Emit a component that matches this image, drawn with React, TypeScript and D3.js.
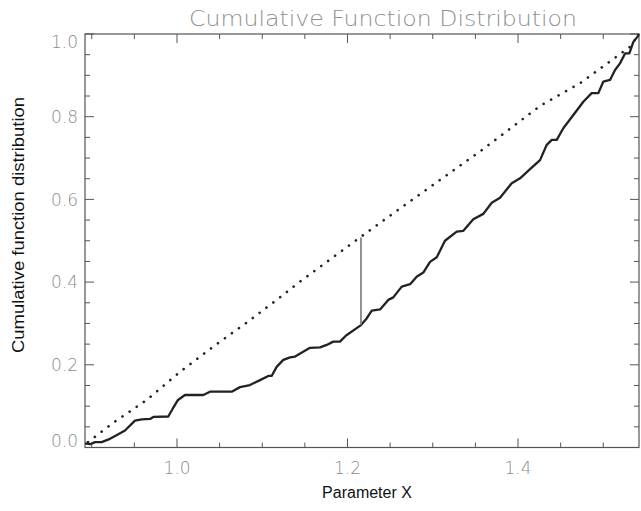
import React from "react";
import * as d3 from "d3";

// Empirical cumulative distribution (solid)
const solidX = [0.8921, 0.8980, 0.9039, 0.9116, 0.9214, 0.9312, 0.9390, 0.9507, 0.9586, 0.9684, 0.9723, 0.9898, 0.9953, 1.0012, 1.0093, 1.0309, 1.0387, 1.0642, 1.0739, 1.0856, 1.0974, 1.1071, 1.1110, 1.1169, 1.1247, 1.1326, 1.1385, 1.1560, 1.1678, 1.1756, 1.1833, 1.1912, 1.1983, 1.2158, 1.2225, 1.2284, 1.2382, 1.2478, 1.2537, 1.2636, 1.2734, 1.2811, 1.2889, 1.2968, 1.3047, 1.3143, 1.3281, 1.3359, 1.3475, 1.3593, 1.3692, 1.3789, 1.3926, 1.4024, 1.4141, 1.4258, 1.4337, 1.4396, 1.4454, 1.4531, 1.4649, 1.4766, 1.4864, 1.4942, 1.5001, 1.5079, 1.5138, 1.5196, 1.5255, 1.5306, 1.5353, 1.5400, 1.5419];
const solidY = [0.010, 0.008, 0.013, 0.013, 0.021, 0.032, 0.041, 0.065, 0.068, 0.069, 0.074, 0.075, 0.095, 0.115, 0.127, 0.127, 0.135, 0.135, 0.146, 0.151, 0.163, 0.173, 0.173, 0.195, 0.212, 0.218, 0.220, 0.241, 0.242, 0.248, 0.256, 0.256, 0.271, 0.296, 0.312, 0.331, 0.334, 0.357, 0.363, 0.389, 0.395, 0.413, 0.423, 0.449, 0.460, 0.500, 0.522, 0.524, 0.552, 0.565, 0.592, 0.604, 0.639, 0.651, 0.673, 0.695, 0.732, 0.744, 0.744, 0.772, 0.804, 0.836, 0.857, 0.857, 0.885, 0.889, 0.913, 0.929, 0.953, 0.953, 0.981, 0.993, 1.0];

// Reference cumulative distribution (dotted)
const dottedX = [0.8956, 0.9253, 0.9645, 1.0036, 1.0426, 1.0817, 1.1169, 1.1442, 1.2146, 1.2616, 1.3085, 1.3574, 1.4258, 1.4728, 1.5314, 1.5419];
const dottedY = [0.013, 0.060, 0.115, 0.183, 0.244, 0.302, 0.357, 0.401, 0.508, 0.578, 0.647, 0.719, 0.826, 0.881, 0.969, 1.0];

// Maximum distance marker
const ksX = 1.2158;
const ksLow = 0.296;
const ksHigh = 0.508;

const xTicks = [1.0, 1.2, 1.4];
const yTicks = [0.0, 0.2, 0.4, 0.6, 0.8, 1.0];
const xDomain = [0.8921, 1.5419];
const yDomain = [0, 1];

const W = 641, H = 511;
const L = 85, R = 639, T = 34, B = 447.5;

export default function App() {
  const x = d3.scaleLinear().domain(xDomain).range([L, R]);
  const y = d3.scaleLinear().domain(yDomain).range([B, T]);
  const line = d3.line<[number, number]>().x(d => x(d[0])).y(d => y(d[1]));
  const solid = solidX.map((v, i) => [v, solidY[i]] as [number, number]);
  const dotted = dottedX.map((v, i) => [v, dottedY[i]] as [number, number]);

  const xMinor = d3.range(18, 31).map(k => k * 0.05).filter(v => v >= xDomain[0] - 1e-9 && v <= xDomain[1]);
  const yMinor = d3.range(0, 21).map(k => k * 0.05);
  const isMajor = (v: number) => Math.abs(v * 5 - Math.round(v * 5)) < 1e-6;

  const axisColor = "#555";
  const labelColor = "#8c8c8c";
  const tickFont = "DejaVu Sans, sans-serif";

  return (
    <svg width={W} height={H} style={{ position: "absolute", left: 0, top: 0, background: "#fff" }}>
      <rect x={0} y={0} width={W} height={H} fill="#fff" />
      <text x={383} y={26} textAnchor="middle" fontFamily={tickFont} fontWeight={200} fontSize={21} fill="#8f8f8f" textLength={388} lengthAdjust="spacingAndGlyphs">Cumulative Function Distribution</text>

      {/* frame */}
      <rect x={L} y={T} width={R - L} height={B - T} fill="none" stroke={axisColor} strokeWidth={1.2} />

      {/* ticks */}
      {xMinor.map((v, i) => {
        const len = isMajor(v) ? 9 : 5;
        const px = x(v);
        return (
          <g key={"xt" + i}>
            <line x1={px} x2={px} y1={B} y2={B - len} stroke={axisColor} strokeWidth={1} />
            <line x1={px} x2={px} y1={T} y2={T + len} stroke={axisColor} strokeWidth={1} />
          </g>
        );
      })}
      {yMinor.map((v, i) => {
        const len = isMajor(v) ? 9 : 5;
        const py = y(v);
        return (
          <g key={"yt" + i}>
            <line x1={L} x2={L + len} y1={py} y2={py} stroke={axisColor} strokeWidth={1} />
            <line x1={R} x2={R - len} y1={py} y2={py} stroke={axisColor} strokeWidth={1} />
          </g>
        );
      })}

      {xTicks.map((v, i) => (
        <text key={"xl" + i} x={x(v)} y={474} textAnchor="middle" fontFamily={tickFont} fontWeight={200} fontSize={17} fill={labelColor}>{v.toFixed(1)}</text>
      ))}
      {yTicks.map((v, i) => (
        <text key={"yl" + i} x={78} y={Math.min(Math.max(y(v), 42), 441)} dy="0.36em" textAnchor="end" fontFamily={tickFont} fontWeight={200} fontSize={17} fill={labelColor}>{v.toFixed(1)}</text>
      ))}

      {/* curves */}
      <path d={line(dotted) || ""} fill="none" stroke="#222" strokeWidth={2.6} strokeLinecap="round" strokeDasharray="0.1 8.5" />
      <path d={line(solid) || ""} fill="none" stroke="#222" strokeWidth={2.3} strokeLinejoin="round" />
      <line x1={x(ksX)} x2={x(ksX)} y1={y(ksLow)} y2={y(ksHigh)} stroke="#777" strokeWidth={1.6} />

      {/* axis titles */}
      <text x={367} y={498} textAnchor="middle" fontFamily="Liberation Sans, Arial, sans-serif" fontSize={16} fill="#111">Parameter X</text>
      <text transform="translate(24,225) rotate(-90)" textAnchor="middle" fontFamily="Liberation Sans, Arial, sans-serif" fontSize={16} fill="#111" textLength={256} lengthAdjust="spacingAndGlyphs">Cumulative function distribution</text>
    </svg>
  );
}
